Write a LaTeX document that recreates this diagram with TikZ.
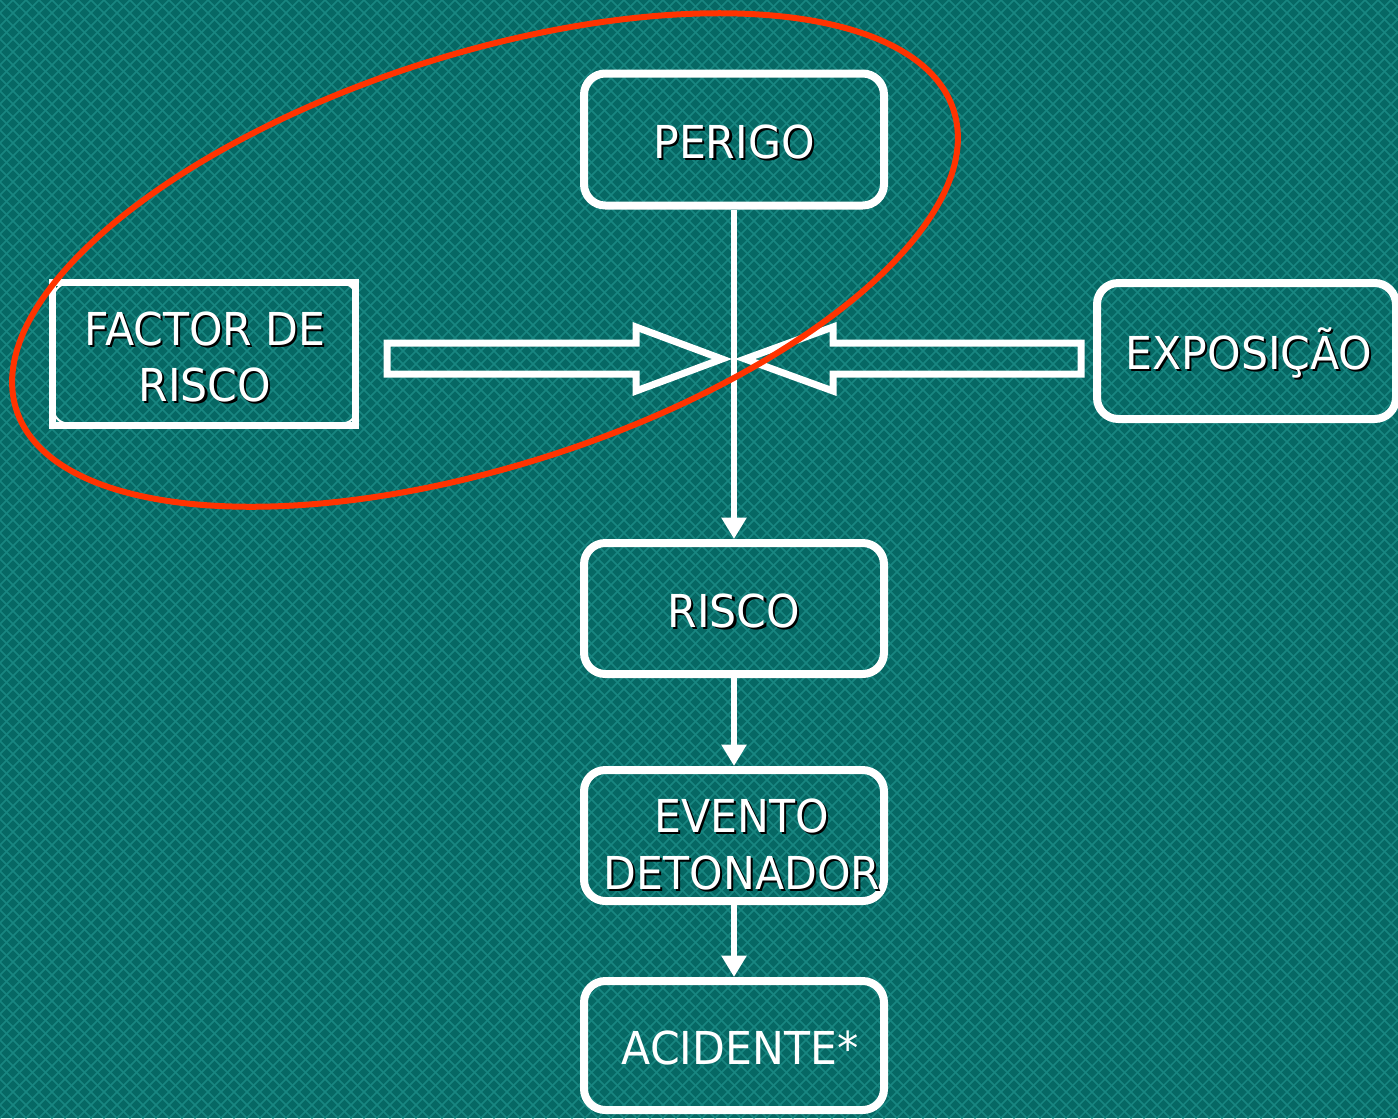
\documentclass[tikz,border=0pt]{standalone}
\usepackage{fontspec}
\setmainfont{DejaVu Sans}[FakeStretch=0.94]
\usetikzlibrary{arrows.meta}
\definecolor{bgteal}{RGB}{6,104,100}
\definecolor{hatch}{RGB}{24,134,129}
\definecolor{ovalred}{RGB}{255,51,0}
\newcommand\shd[1]{\leavevmode\rlap{\kern1.6pt\raisebox{-1.6pt}{\textcolor{black}{#1}}}#1}
\begin{document}
\begin{tikzpicture}[x=0.75pt,y=-0.75pt,
  box/.style={draw=white,line width=6pt,rounded corners=16pt,minimum width=225pt,minimum height=99pt,inner sep=0pt},
  lbl/.style={text=white,inner sep=0pt,anchor=base,font=\fontsize{34}{42.75}\selectfont},
  conn/.style={draw=white,line width=5pt,-{Triangle[width=18pt,length=16pt]}},
  blockarrow/.style={draw=white,line width=5.25pt,line join=miter},
  oval/.style={draw=ovalred,line width=4.5pt}]
\useasboundingbox (0,0) rectangle (1398,1118);
\begin{scope}
\clip (0,0) rectangle (1398,1118);
\fill[bgteal] (0,0) rectangle (1398,1118);
\foreach \c in {-1118,-1105,...,1400} \draw[hatch,line width=1.1pt] (\c,0) -- ++(1118,1118);
\foreach \c in {0,13,...,2520} \draw[hatch,line width=1.1pt] (\c,0) -- ++(-1118,1118);

% boxes
\node[box] (perigo) at (734,139.5) {};
\node[box,minimum height=98.25pt] (risco) at (734,608.5) {};
\node[box,minimum height=98.25pt] (evento) at (734,835.5) {};
\node[box,minimum height=96.75pt] (acidente) at (734,1045.5) {};
\node[box,minimum width=224.25pt,minimum height=102pt] (exposicao) at (1246.5,351) {};
\node[draw=white,line width=5.25pt,minimum width=227.25pt,minimum height=107.25pt,inner sep=0pt] (factor) at (204,354) {};
\draw[white,line width=1.5pt,rounded corners=11pt] ([shift={(4.5,4.5)}]factor.north west) rectangle ([shift={(-2.5,-5.5)}]factor.south east);

% texts
\node[lbl] (perigoT) at (734,158) {\shd{PERIGO}};
\node[lbl] (factorT1) at (205,345) {\shd{FACTOR DE}};
\node[lbl] (factorT2) at (205,401) {\shd{RISCO}};
\node[lbl] (exposicaoT) at (1249,369) {\shd{EXPOSIÇÃO}};
\node[lbl] (riscoT) at (734,627) {\shd{RISCO}};
\node[lbl] (eventoT1) at (741.5,832) {\shd{EVENTO}};
\node[lbl] (eventoT2) at (742,889) {\shd{DETONADOR}};
\node[lbl] (acidenteT) at (740,1064) {ACIDENTE*};

% connectors
\draw[conn] (perigo.south) -- (risco.north);
\draw[conn] (risco.south) -- (evento.north);
\draw[conn] (evento.south) -- (acidente.north);

% block arrows
\draw[blockarrow] (387,343) -- (636,343) -- (636,327) -- (722,359) -- (636,391) -- (636,374) -- (387,374) -- cycle;
\draw[blockarrow] (1081,343) -- (833,343) -- (833,327) -- (745,359) -- (833,391) -- (833,374) -- (1081,374) -- cycle;

% red oval
\draw[oval,rotate around={17.7:(485,260)}] (485,260) ellipse [x radius=369pt, y radius=154.5pt];
\end{scope}
\end{tikzpicture}
\end{document}
